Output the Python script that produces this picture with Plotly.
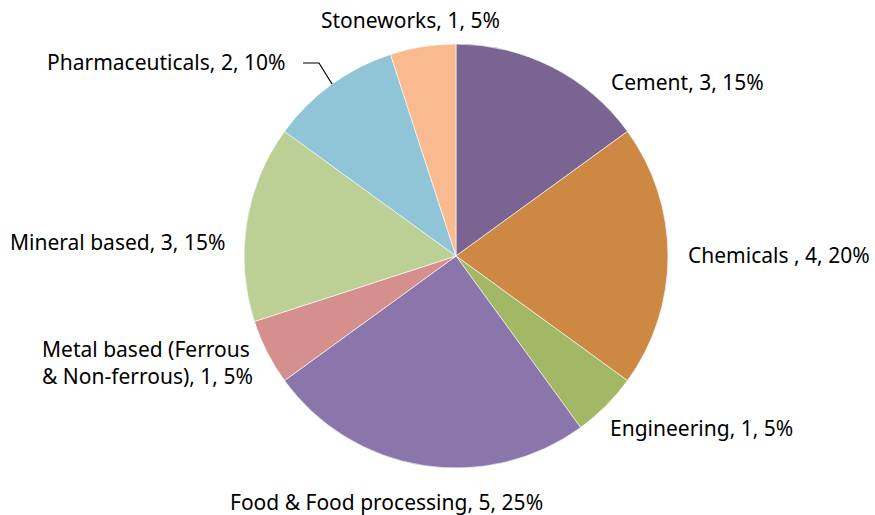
import plotly.graph_objects as go

categories = ["Cement", "Chemicals ", "Engineering", "Food & Food processing",
              "Metal based (Ferrous & Non-ferrous)", "Mineral based",
              "Pharmaceuticals", "Stoneworks"]
values = [3, 4, 1, 5, 1, 3, 2, 1]
colors = ["#7A6491", "#CD8843", "#A2B865", "#8B76AB", "#D5908E",
          "#BCCF95", "#8FC5D6", "#F8BA8E"]

total = sum(values)
labels_text = [f"{c}, {v}, {round(100*v/total)}%" for c, v in zip(categories, values)]
labels_text[4] = f"Metal based (Ferrous<br>& Non-ferrous), {values[4]}, {round(100*values[4]/total)}%"

W, H = 875, 515
cx, cy, r = 456, 256, 212

fig = go.Figure(go.Pie(
    labels=categories, values=values, sort=False, direction="clockwise",
    rotation=0, textinfo="none", hoverinfo="label+value+percent",
    marker=dict(colors=colors, line=dict(color="rgba(255,255,255,0.6)", width=1)),
    domain=dict(x=[(cx - r) / W, (cx + r) / W], y=[1 - (cy + r) / H, 1 - (cy - r) / H]),
    showlegend=False,
))

# label placement (pixel positions, anchor)
pos = [
    (609, 82),
    (686, 255),
    (608, 428),
    (228, 502),
    (40, 362),
    (8, 242),
    (45, 62),
    (319, 20),
]
annotations = []
for txt, (x, y) in zip(labels_text, pos):
    annotations.append(dict(
        x=x / W, y=1 - y / H, xref="paper", yref="paper", text=txt,
        showarrow=False, xanchor="left", yanchor="middle", align="left",
        font=dict(size=21, color="#000000", family="Noto Sans, Open Sans, sans-serif"),
    ))

shapes = [
    dict(type="path", xref="paper", yref="paper",
         path=f"M {303/W},{1-63/H} L {319/W},{1-63/H} L {332/W},{1-84/H}",
         line=dict(color="#000000", width=1.2)),
]

fig.update_layout(
    width=W, height=H, margin=dict(l=0, r=0, t=0, b=0),
    paper_bgcolor="white", plot_bgcolor="white",
    annotations=annotations, shapes=shapes,
)
fig.write_html("out.html", config={"displayModeBar": False},
               post_script="document.body.style.margin='0';")
